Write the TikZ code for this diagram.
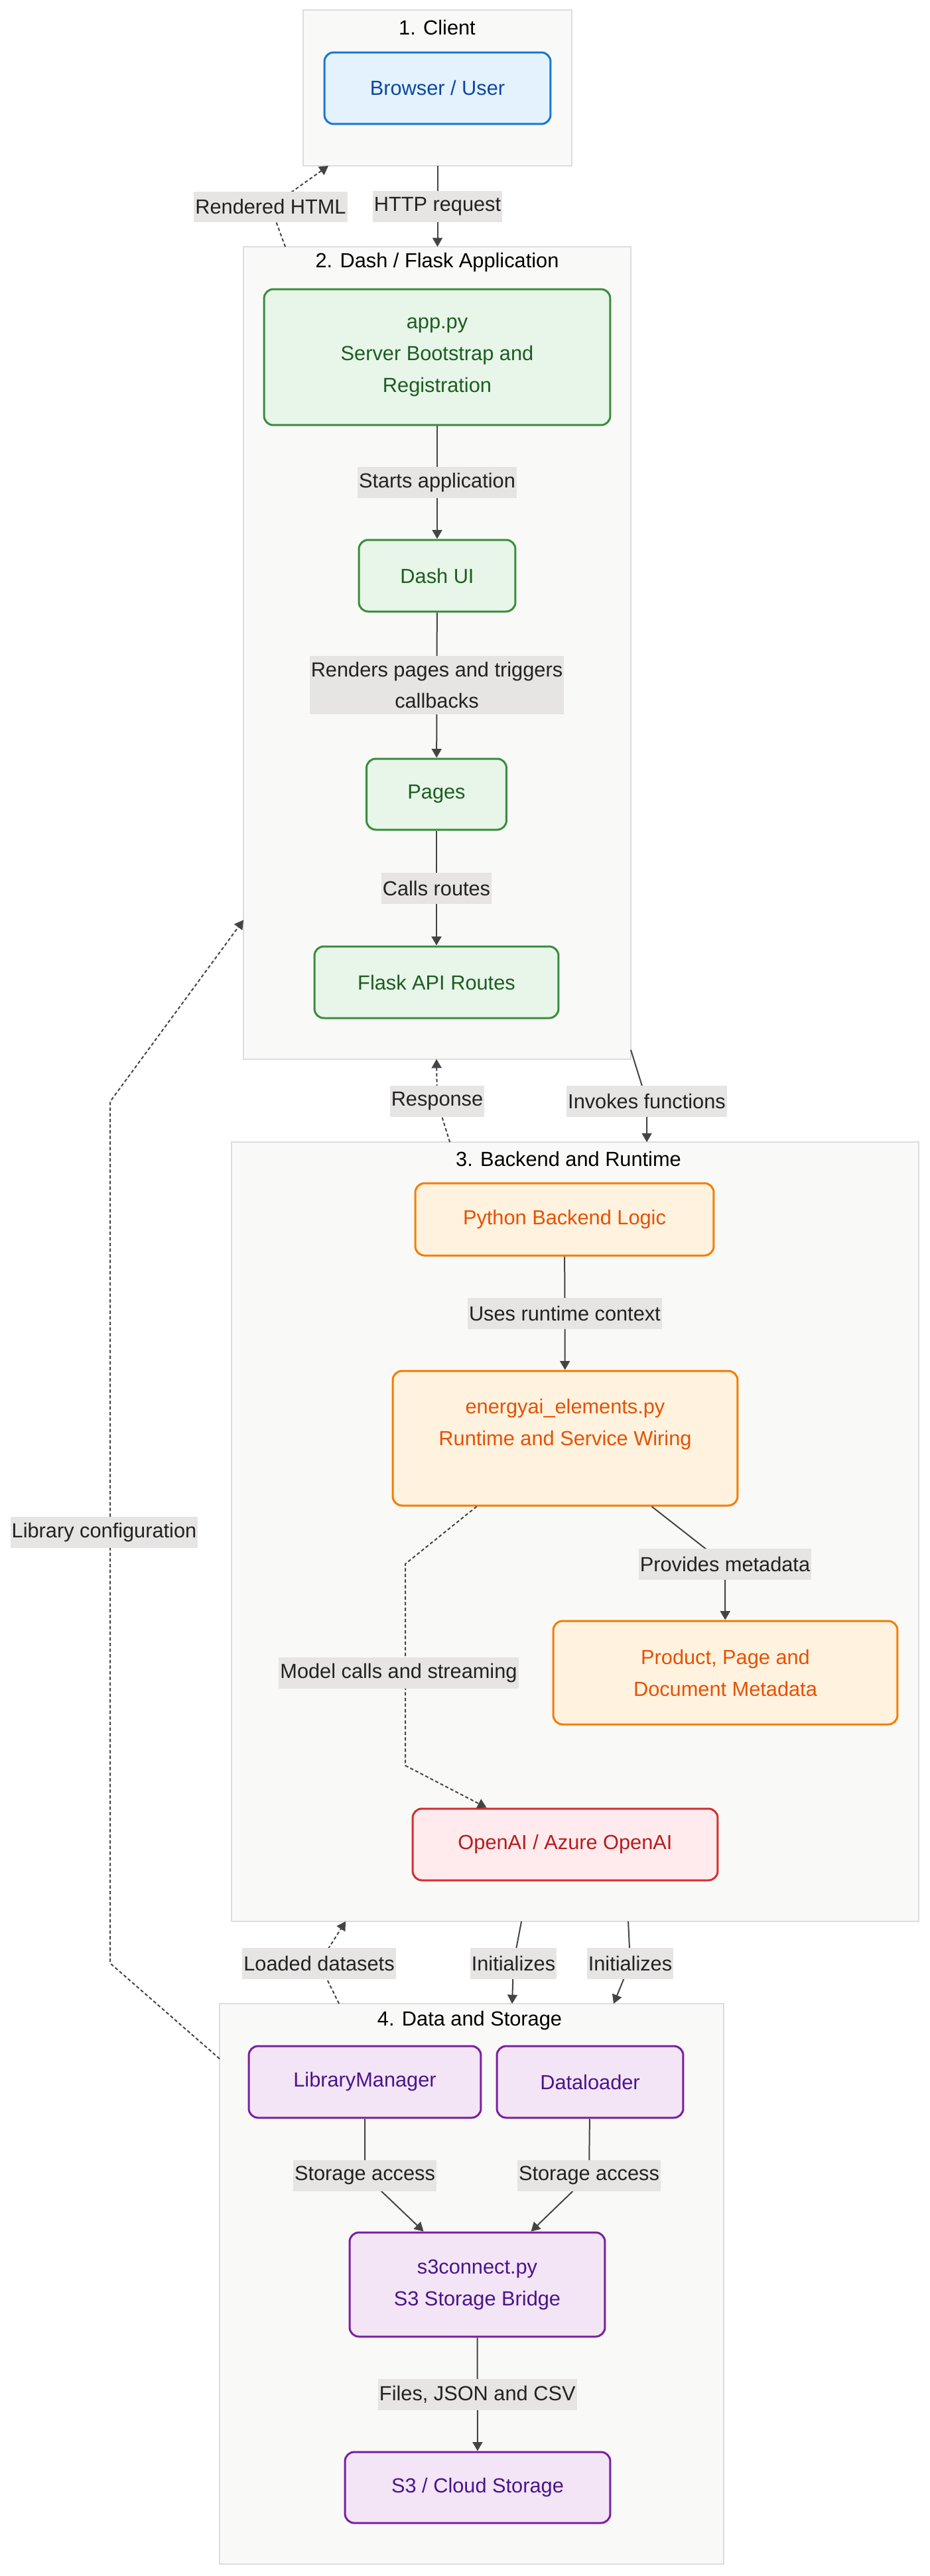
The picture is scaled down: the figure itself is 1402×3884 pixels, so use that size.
\documentclass[tikz,border=0pt]{standalone}
\usepackage{fontspec}
\setmainfont{Liberation Sans}
\usepackage{tikz}
\usetikzlibrary{arrows.meta,calc,positioning}
\definecolor{linegray}{HTML}{444444}
\definecolor{clusline}{HTML}{DDDDDD}
\definecolor{clusfill}{HTML}{F9F9F7}
\definecolor{lblfill}{HTML}{E6E5E3}
\definecolor{lbltext}{HTML}{222222}
\definecolor{blueline}{HTML}{1976D2}
\definecolor{bluefill}{HTML}{E3F2FD}
\definecolor{bluetext}{HTML}{0D47A1}
\definecolor{greenline}{HTML}{388E3C}
\definecolor{greenfill}{HTML}{E8F5E9}
\definecolor{greentext}{HTML}{1B5E20}
\definecolor{orangeline}{HTML}{F57C00}
\definecolor{orangefill}{HTML}{FFF3E0}
\definecolor{orangetext}{HTML}{E65100}
\definecolor{redline}{HTML}{D32F2F}
\definecolor{redfill}{HTML}{FFEBEE}
\definecolor{redtext}{HTML}{B71C1C}
\definecolor{purpleline}{HTML}{7B1FA2}
\definecolor{purplefill}{HTML}{F3E5F5}
\definecolor{purpletext}{HTML}{4A148C}
\tikzset{>={Triangle[length=0.27cm,width=0.3cm]},
	clus/.style={rectangle,draw=clusline,fill=clusfill,line width=0.04cm,inner sep=0pt,outer sep=0pt},
	ctitle/.style={inner sep=0pt,text=black},
	nodebox/.style={rectangle,rounded corners=0.28cm,line width=0.06cm,inner sep=0pt,align=center},
	clientbox/.style={nodebox,draw=blueline,fill=bluefill,text=bluetext},
	appbox/.style={nodebox,draw=greenline,fill=greenfill,text=greentext},
	backbox/.style={nodebox,draw=orangeline,fill=orangefill,text=orangetext},
	aibox/.style={nodebox,draw=redline,fill=redfill,text=redtext},
	storebox/.style={nodebox,draw=purpleline,fill=purplefill,text=purpletext},
	lbl/.style={fill=lblfill,text=lbltext,inner xsep=0.04cm,inner ysep=0.17cm,minimum height=0.94cm,align=center},
	conn/.style={->,draw=linegray,line width=0.04cm},
	dconn/.style={conn,dash pattern=on 0.1cm off 0.07cm}}
\begin{document}
\begin{tikzpicture}[x=0.02cm,y=-0.02cm,font=\fontsize{17.5}{27.3}\selectfont]
	\useasboundingbox (0,0) rectangle (1402,3884);
	% clusters
	\node (Client) at (659.5,132.5) [clus,minimum width=8.1cm,minimum height=4.7cm] {};
	\node (Dash) at (659,984.5) [clus,minimum width=11.68cm,minimum height=24.5cm] {};
	\node (Backend) at (867,2309.5) [clus,minimum width=20.72cm,minimum height=23.5cm] {};
	\node (Data) at (711,3443.5) [clus,minimum width=15.2cm,minimum height=16.9cm] {};
	\node (t1) at (659,42) [ctitle] {1. Client};
	\node (t2) at (659,396) [ctitle] {2. Dash / Flask Application};
	\node (t3) at (857,1747) [ctitle] {3. Backend and Runtime};
	\node (t4) at (708,3047) [ctitle] {4. Data and Storage};
	% nodes
	\node (Browser) at (659.5,133) [clientbox,minimum width=6.82cm,minimum height=2.16cm] {Browser / User};
	\node (App) at (659,538.5) [appbox,minimum width=10.44cm,minimum height=4.1cm] {app.py\\Server Bootstrap and\\Registration};
	\node (DashUI) at (659,868) [appbox,minimum width=4.72cm,minimum height=2.16cm] {Dash UI};
	\node (Pages) at (658,1197.5) [appbox,minimum width=4.22cm,minimum height=2.14cm] {Pages};
	\node (Flask) at (658,1481) [appbox,minimum width=7.36cm,minimum height=2.16cm] {Flask API Routes};
	\node (Python) at (851,1838.5) [backbox,minimum width=9cm,minimum height=2.18cm] {Python Backend Logic};
	\node (Energy) at (852,2168.5) [backbox,minimum width=10.4cm,minimum height=4.06cm] {energyai\_elements.py\\Runtime and Service Wiring\\~};
	\node (Product) at (1093.5,2522) [backbox,minimum width=10.38cm,minimum height=3.12cm] {Product, Page and\\Document Metadata};
	\node (OpenAI) at (852,2781) [aibox,minimum width=9.2cm,minimum height=2.16cm] {OpenAI / Azure OpenAI};
	\node (LibMan) at (550,3139) [storebox,minimum width=7cm,minimum height=2.16cm] {LibraryManager};
	\node (Loader) at (889.5,3139) [storebox,minimum width=5.62cm,minimum height=2.16cm] {Dataloader};
	\node (S3c) at (719.5,3444.5) [storebox,minimum width=7.7cm,minimum height=3.14cm] {s3connect.py\\S3 Storage Bridge};
	\node (S3) at (720,3750.5) [storebox,minimum width=8cm,minimum height=2.14cm] {S3 / Cloud Storage};
	% connectors
	\draw [conn] (Client.south -| Browser) -- node[lbl]{HTTP request} (Dash.north -| Browser);
	\draw [dconn] ($(Dash.north west)+(63,0)$) -- (408,312) node[lbl]{Rendered HTML} -- ($(Client.south west)+(38,0)$);
	\draw [conn] (App) -- node[lbl]{Starts application} (DashUI);
	\draw [conn] (DashUI) -- node[lbl]{Renders pages and triggers\\callbacks} (Pages);
	\draw [conn] (Pages) -- node[lbl]{Calls routes} (Flask);
	\draw [dconn] ($(Backend.north west)+(329,0)$) -- (659,1660) node[lbl]{Response} -- (Dash.south -| Flask);
	\draw [conn] ($(Dash.south east)+(0,-14)$) -- (975,1660) node[lbl]{Invokes functions} -- ($(Backend.north west)+(626,0)$);
	\draw [conn] (Python) -- node[lbl]{Uses runtime context} (Energy);
	\draw [conn] ($(Energy.south west)+(392,0)$) -- (1093,2358) node[lbl]{Provides metadata} -- (Product);
	\draw [dconn] ($(Energy.south west)+(128,0)$) -- (611,2358) -- node[lbl,pos=0.54,xshift=-0.2cm]{Model calls and streaming} (611,2662) -- ($(OpenAI.north west)+(113,0)$);
	\draw [dconn] ($(Data.north west)+(0,83)$) -- (166,2960) -- node[lbl,pos=0.5,xshift=-0.18cm]{Library configuration} (166,1661) -- ($(Dash.north west)+(0,1015)$);
	\draw [dconn] ($(Data.north west)+(180,0)$) -- (481,2960) node[lbl]{Loaded datasets} -- ($(Backend.south west)+(172,0)$);
	\draw [conn] ($(Backend.south west)+(437,0)$) -- (774,2960) node[lbl]{Initializes} -- ($(Data.north west)+(441,0)$);
	\draw [conn] ($(Backend.south west)+(598,0)$) -- (950,2960) node[lbl]{Initializes} -- ($(Data.north west)+(594,0)$);
	\draw [conn] (LibMan) -- (550,3280) node[lbl]{Storage access} -- ($(S3c.north west)+(113,0)$);
	\draw [conn] (Loader) -- (888,3280) node[lbl]{Storage access} -- ($(S3c.north west)+(275,0)$);
	\draw [conn] (S3c) -- node[lbl]{Files, JSON and CSV} (S3);
\end{tikzpicture}
\end{document}
